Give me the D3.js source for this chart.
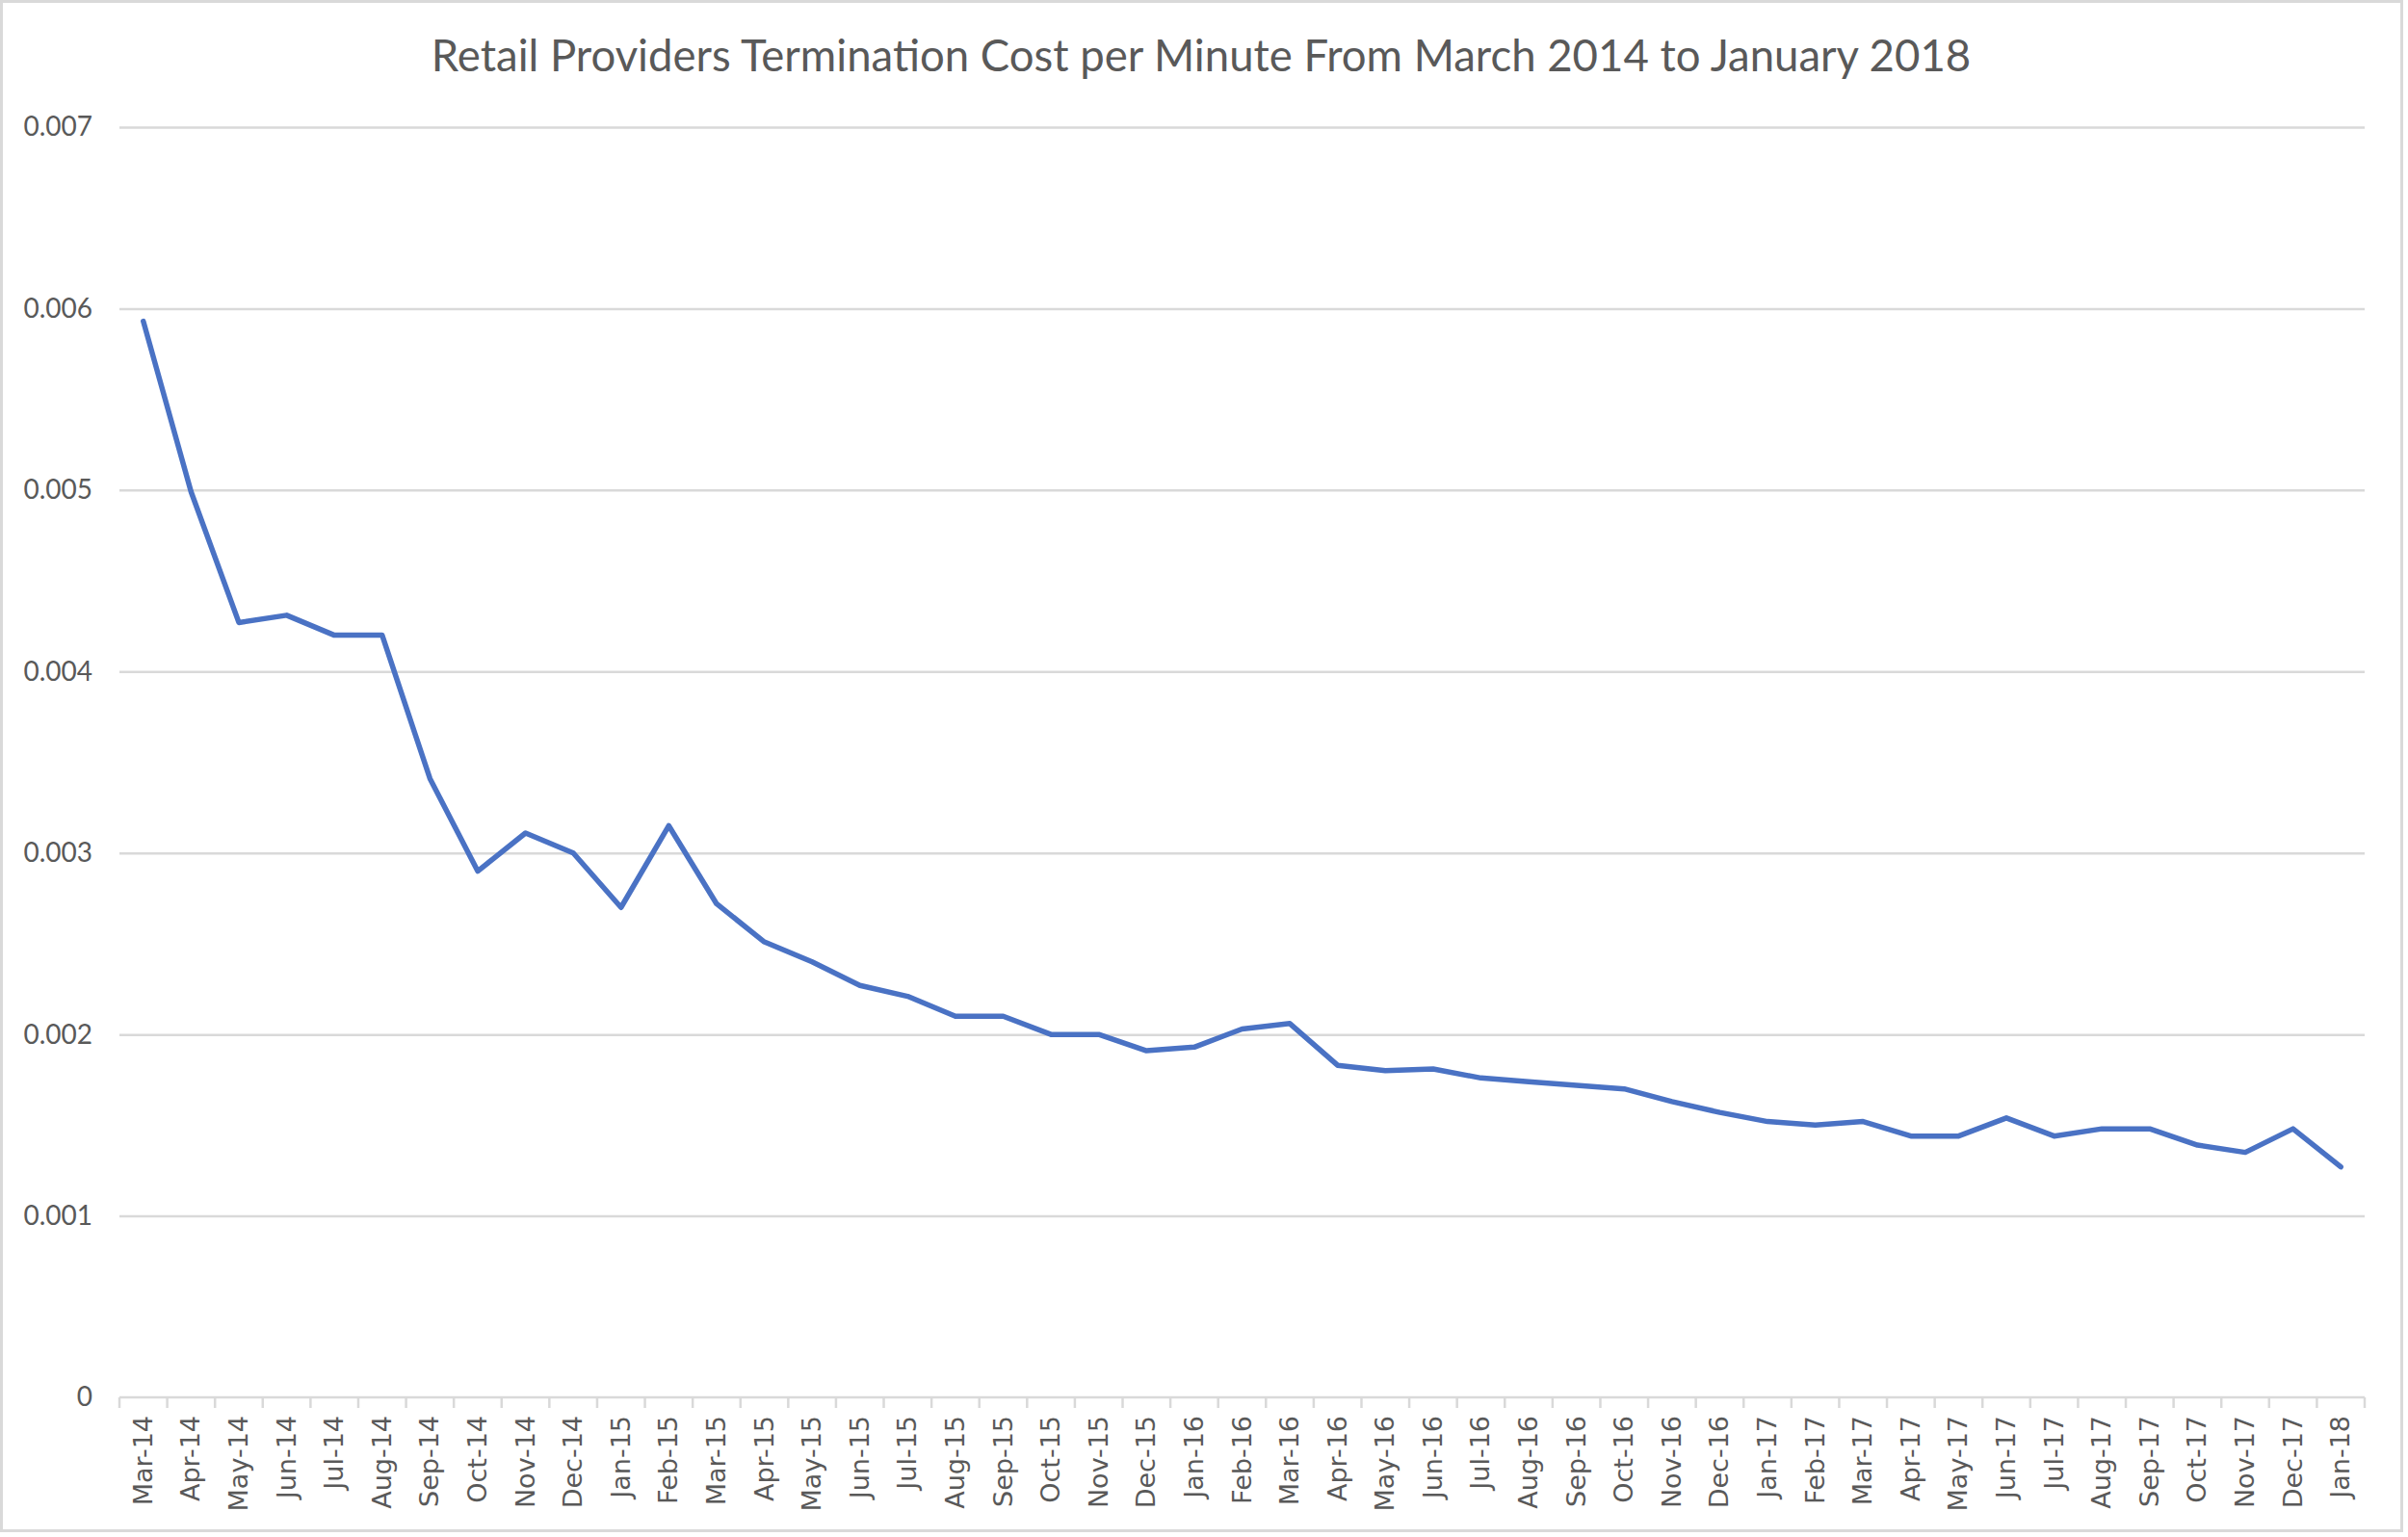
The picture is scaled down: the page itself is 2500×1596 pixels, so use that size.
<!DOCTYPE html>
<html>
<head>
<meta charset="utf-8">
<script src="https://cdn.jsdelivr.net/npm/d3@7"></script>
<style>
  html, body { margin: 0; padding: 0; background: #fff; }
  svg { display: block; }
</style>
</head>
<body>
<div id="chart"></div>
<script>
// Chart data
const months = [
    'Mar-14', 'Apr-14', 'May-14', 'Jun-14', 'Jul-14', 'Aug-14', 'Sep-14', 'Oct-14', 'Nov-14', 'Dec-14',
    'Jan-15', 'Feb-15', 'Mar-15', 'Apr-15', 'May-15', 'Jun-15', 'Jul-15', 'Aug-15', 'Sep-15', 'Oct-15',
    'Nov-15', 'Dec-15', 'Jan-16', 'Feb-16', 'Mar-16', 'Apr-16', 'May-16', 'Jun-16', 'Jul-16', 'Aug-16',
    'Sep-16', 'Oct-16', 'Nov-16', 'Dec-16', 'Jan-17', 'Feb-17', 'Mar-17', 'Apr-17', 'May-17', 'Jun-17',
    'Jul-17', 'Aug-17', 'Sep-17', 'Oct-17', 'Nov-17', 'Dec-17', 'Jan-18'
];

const costPerMinute = [
    0.00593, 0.00499, 0.00427, 0.00431, 0.00420, 0.00420, 0.00341, 0.00290, 0.00311, 0.00300,
    0.00270, 0.00315, 0.00272, 0.00251, 0.00240, 0.00227, 0.00221, 0.00210, 0.00210, 0.00200,
    0.00200, 0.00191, 0.00193, 0.00203, 0.00206, 0.00183, 0.00180, 0.00181, 0.00176, 0.00174,
    0.00172, 0.00170, 0.00163, 0.00157, 0.00152, 0.00150, 0.00152, 0.00144, 0.00144, 0.00154,
    0.00144, 0.00148, 0.00148, 0.00139, 0.00135, 0.00148, 0.00127
];

const yTicks = [0, 0.001, 0.002, 0.003, 0.004, 0.005, 0.006, 0.007];
const yTickLabels = ['0', '0.001', '0.002', '0.003', '0.004', '0.005', '0.006', '0.007'];

const chartTitle = 'Retail Providers Termination Cost per Minute From March 2014 to January 2018';

// Layout
const width = 2500;
const height = 1596;
const margin = { top: 132, right: 45, bottom: 145, left: 124 };
const chartWidth = width - margin.left - margin.right;
const chartHeight = height - margin.top - margin.bottom;

const textColor = '#595959';
const gridColor = '#d9d9d9';
const lineColor = '#4a72c4';

const svg = d3.select('#chart').append('svg')
    .attr('width', width)
    .attr('height', height);

// Outer chart border
svg.append('rect')
    .attr('x', 1.5)
    .attr('y', 1.5)
    .attr('width', width - 8)
    .attr('height', height - 8)
    .attr('fill', '#fff')
    .attr('stroke', gridColor)
    .attr('stroke-width', 3);

const g = svg.append('g')
    .attr('transform', `translate(${margin.left},${margin.top})`);

// Scales
const xScale = d3.scaleBand()
    .domain(months)
    .range([0, chartWidth]);

const yScale = d3.scaleLinear()
    .domain([0, 0.007])
    .range([chartHeight, 0]);

// Horizontal grid
g.append('g')
    .attr('class', 'grid')
    .call(d3.axisLeft(yScale)
        .tickValues(yTicks.slice(1))
        .tickSize(-chartWidth)
        .tickFormat(''))
    .call(sel => sel.select('.domain').remove())
    .call(sel => sel.selectAll('line')
        .attr('stroke', gridColor)
        .attr('stroke-width', 2.5));

// Y axis labels
g.append('g')
    .attr('class', 'y-axis')
    .call(d3.axisLeft(yScale)
        .tickValues(yTicks)
        .tickSize(0)
        .tickPadding(28)
        .tickFormat((d, i) => yTickLabels[i]))
    .call(sel => sel.select('.domain').remove())
    .call(sel => sel.selectAll('text')
        .attr('fill', textColor)
        .attr('font-family', 'Lato, "Open Sans", sans-serif')
        .attr('font-size', '28px'));

// X axis: baseline with ticks between categories
const xAxisG = g.append('g')
    .attr('class', 'x-axis')
    .attr('transform', `translate(0,${chartHeight})`);

xAxisG.append('line')
    .attr('x1', 0)
    .attr('x2', chartWidth)
    .attr('stroke', gridColor)
    .attr('stroke-width', 2.5);

const boundaries = months.map(m => xScale(m)).concat([chartWidth]);
xAxisG.selectAll('.x-tick')
    .data(boundaries)
    .join('line')
    .attr('class', 'x-tick')
    .attr('x1', d => d)
    .attr('x2', d => d)
    .attr('y1', 0)
    .attr('y2', 11)
    .attr('stroke', gridColor)
    .attr('stroke-width', 2.5);

xAxisG.selectAll('.x-label')
    .data(months)
    .join('text')
    .attr('class', 'x-label')
    .attr('transform', d => `translate(${xScale(d) + xScale.bandwidth() / 2 + 9},19) rotate(-90)`)
    .attr('text-anchor', 'end')
    .attr('fill', textColor)
    .attr('font-family', '"DejaVu Sans", Verdana, sans-serif')
    .attr('font-size', '27px')
    .text(d => d);

// Data line
const line = d3.line()
    .x((d, i) => xScale(months[i]) + xScale.bandwidth() / 2)
    .y(d => yScale(d));

g.append('path')
    .datum(costPerMinute)
    .attr('class', 'line-cost')
    .attr('d', line)
    .attr('fill', 'none')
    .attr('stroke', lineColor)
    .attr('stroke-width', 5.5)
    .attr('stroke-linejoin', 'round')
    .attr('stroke-linecap', 'round');

// Title
svg.append('text')
    .attr('x', 1247)
    .attr('y', 74)
    .attr('text-anchor', 'middle')
    .attr('fill', textColor)
    .attr('font-family', 'Lato, "Open Sans", sans-serif')
    .attr('font-size', '45.5px')
    .text(chartTitle);
</script>
</body>
</html>
